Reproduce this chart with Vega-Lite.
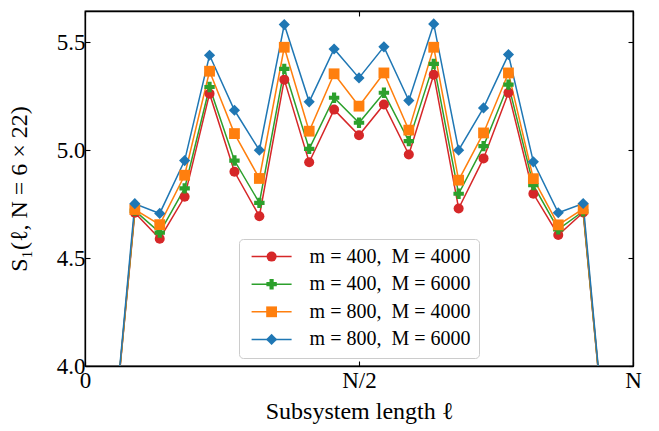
{
  "$schema": "https://vega.github.io/schema/vega-lite/v6.json",
  "width": 548,
  "height": 355,
  "autosize": "none",
  "padding": {"left": 85, "top": 11, "right": 26, "bottom": 65},
  "background": "white",
  "config": {
    "font": "Liberation Serif",
    "view": {"stroke": "black", "strokeWidth": 1.3},
    "axis": {
      "grid": false,
      "labelFont": "Liberation Serif",
      "titleFont": "Liberation Serif",
      "labelFontSize": 23,
      "titleFontSize": 24,
      "titleFontWeight": "normal",
      "labelColor": "black",
      "titleColor": "black",
      "tickColor": "black",
      "domainColor": "black",
      "domainWidth": 1.3,
      "tickWidth": 1.1,
      "tickSize": -5,
      "labelOverlap": false
    },
    "legend": {"labelFont": "Liberation Serif", "labelFontSize": 20, "labelColor": "black", "labelLimit": 400}
  },
  "data": {
    "values": [
      {"l": 6, "S": 3.5, "series": "m = 400,\u2002M = 4000", "g": "a"},
      {"l": 12, "S": 4.71, "series": "m = 400,\u2002M = 4000", "g": "a"},
      {"l": 18, "S": 4.59, "series": "m = 400,\u2002M = 4000", "g": "a"},
      {"l": 24, "S": 4.784, "series": "m = 400,\u2002M = 4000", "g": "a"},
      {"l": 30, "S": 5.262, "series": "m = 400,\u2002M = 4000", "g": "a"},
      {"l": 36, "S": 4.9, "series": "m = 400,\u2002M = 4000", "g": "a"},
      {"l": 42, "S": 4.694, "series": "m = 400,\u2002M = 4000", "g": "a"},
      {"l": 48, "S": 5.327, "series": "m = 400,\u2002M = 4000", "g": "a"},
      {"l": 54, "S": 4.944, "series": "m = 400,\u2002M = 4000", "g": "a"},
      {"l": 60, "S": 5.188, "series": "m = 400,\u2002M = 4000", "g": "a"},
      {"l": 66, "S": 5.069, "series": "m = 400,\u2002M = 4000", "g": "a"},
      {"l": 72, "S": 5.212, "series": "m = 400,\u2002M = 4000", "g": "a"},
      {"l": 78, "S": 4.98, "series": "m = 400,\u2002M = 4000", "g": "a"},
      {"l": 84, "S": 5.35, "series": "m = 400,\u2002M = 4000", "g": "a"},
      {"l": 90, "S": 4.73, "series": "m = 400,\u2002M = 4000", "g": "a"},
      {"l": 96, "S": 4.962, "series": "m = 400,\u2002M = 4000", "g": "a"},
      {"l": 102, "S": 5.266, "series": "m = 400,\u2002M = 4000", "g": "a"},
      {"l": 108, "S": 4.798, "series": "m = 400,\u2002M = 4000", "g": "a"},
      {"l": 114, "S": 4.607, "series": "m = 400,\u2002M = 4000", "g": "a"},
      {"l": 120, "S": 4.711, "series": "m = 400,\u2002M = 4000", "g": "a"},
      {"l": 126, "S": 3.5, "series": "m = 400,\u2002M = 4000", "g": "a"},

      {"l": 6, "S": 3.5, "series": "m = 400,\u2002M = 6000", "g": "b"},
      {"l": 12, "S": 4.72, "series": "m = 400,\u2002M = 6000", "g": "b"},
      {"l": 18, "S": 4.618, "series": "m = 400,\u2002M = 6000", "g": "b"},
      {"l": 24, "S": 4.823, "series": "m = 400,\u2002M = 6000", "g": "b"},
      {"l": 30, "S": 5.293, "series": "m = 400,\u2002M = 6000", "g": "b"},
      {"l": 36, "S": 4.952, "series": "m = 400,\u2002M = 6000", "g": "b"},
      {"l": 42, "S": 4.756, "series": "m = 400,\u2002M = 6000", "g": "b"},
      {"l": 48, "S": 5.377, "series": "m = 400,\u2002M = 6000", "g": "b"},
      {"l": 54, "S": 5.006, "series": "m = 400,\u2002M = 6000", "g": "b"},
      {"l": 60, "S": 5.243, "series": "m = 400,\u2002M = 6000", "g": "b"},
      {"l": 66, "S": 5.127, "series": "m = 400,\u2002M = 6000", "g": "b"},
      {"l": 72, "S": 5.266, "series": "m = 400,\u2002M = 6000", "g": "b"},
      {"l": 78, "S": 5.042, "series": "m = 400,\u2002M = 6000", "g": "b"},
      {"l": 84, "S": 5.4, "series": "m = 400,\u2002M = 6000", "g": "b"},
      {"l": 90, "S": 4.798, "series": "m = 400,\u2002M = 6000", "g": "b"},
      {"l": 96, "S": 5.019, "series": "m = 400,\u2002M = 6000", "g": "b"},
      {"l": 102, "S": 5.304, "series": "m = 400,\u2002M = 6000", "g": "b"},
      {"l": 108, "S": 4.838, "series": "m = 400,\u2002M = 6000", "g": "b"},
      {"l": 114, "S": 4.633, "series": "m = 400,\u2002M = 6000", "g": "b"},
      {"l": 120, "S": 4.717, "series": "m = 400,\u2002M = 6000", "g": "b"},
      {"l": 126, "S": 3.5, "series": "m = 400,\u2002M = 6000", "g": "b"},

      {"l": 6, "S": 3.5, "series": "m = 800,\u2002M = 4000", "g": "c"},
      {"l": 12, "S": 4.725, "series": "m = 800,\u2002M = 4000", "g": "c"},
      {"l": 18, "S": 4.655, "series": "m = 800,\u2002M = 4000", "g": "c"},
      {"l": 24, "S": 4.884, "series": "m = 800,\u2002M = 4000", "g": "c"},
      {"l": 30, "S": 5.366, "series": "m = 800,\u2002M = 4000", "g": "c"},
      {"l": 36, "S": 5.077, "series": "m = 800,\u2002M = 4000", "g": "c"},
      {"l": 42, "S": 4.869, "series": "m = 800,\u2002M = 4000", "g": "c"},
      {"l": 48, "S": 5.477, "series": "m = 800,\u2002M = 4000", "g": "c"},
      {"l": 54, "S": 5.088, "series": "m = 800,\u2002M = 4000", "g": "c"},
      {"l": 60, "S": 5.354, "series": "m = 800,\u2002M = 4000", "g": "c"},
      {"l": 66, "S": 5.204, "series": "m = 800,\u2002M = 4000", "g": "c"},
      {"l": 72, "S": 5.358, "series": "m = 800,\u2002M = 4000", "g": "c"},
      {"l": 78, "S": 5.093, "series": "m = 800,\u2002M = 4000", "g": "c"},
      {"l": 84, "S": 5.477, "series": "m = 800,\u2002M = 4000", "g": "c"},
      {"l": 90, "S": 4.861, "series": "m = 800,\u2002M = 4000", "g": "c"},
      {"l": 96, "S": 5.08, "series": "m = 800,\u2002M = 4000", "g": "c"},
      {"l": 102, "S": 5.358, "series": "m = 800,\u2002M = 4000", "g": "c"},
      {"l": 108, "S": 4.868, "series": "m = 800,\u2002M = 4000", "g": "c"},
      {"l": 114, "S": 4.654, "series": "m = 800,\u2002M = 4000", "g": "c"},
      {"l": 120, "S": 4.728, "series": "m = 800,\u2002M = 4000", "g": "c"},
      {"l": 126, "S": 3.5, "series": "m = 800,\u2002M = 4000", "g": "c"},

      {"l": 6, "S": 3.5, "series": "m = 800,\u2002M = 6000", "g": "d"},
      {"l": 12, "S": 4.752, "series": "m = 800,\u2002M = 6000", "g": "d"},
      {"l": 18, "S": 4.707, "series": "m = 800,\u2002M = 6000", "g": "d"},
      {"l": 24, "S": 4.952, "series": "m = 800,\u2002M = 6000", "g": "d"},
      {"l": 30, "S": 5.44, "series": "m = 800,\u2002M = 6000", "g": "d"},
      {"l": 36, "S": 5.185, "series": "m = 800,\u2002M = 6000", "g": "d"},
      {"l": 42, "S": 5.0, "series": "m = 800,\u2002M = 6000", "g": "d"},
      {"l": 48, "S": 5.582, "series": "m = 800,\u2002M = 6000", "g": "d"},
      {"l": 54, "S": 5.224, "series": "m = 800,\u2002M = 6000", "g": "d"},
      {"l": 60, "S": 5.469, "series": "m = 800,\u2002M = 6000", "g": "d"},
      {"l": 66, "S": 5.335, "series": "m = 800,\u2002M = 6000", "g": "d"},
      {"l": 72, "S": 5.479, "series": "m = 800,\u2002M = 6000", "g": "d"},
      {"l": 78, "S": 5.23, "series": "m = 800,\u2002M = 6000", "g": "d"},
      {"l": 84, "S": 5.585, "series": "m = 800,\u2002M = 6000", "g": "d"},
      {"l": 90, "S": 5.0, "series": "m = 800,\u2002M = 6000", "g": "d"},
      {"l": 96, "S": 5.196, "series": "m = 800,\u2002M = 6000", "g": "d"},
      {"l": 102, "S": 5.443, "series": "m = 800,\u2002M = 6000", "g": "d"},
      {"l": 108, "S": 4.946, "series": "m = 800,\u2002M = 6000", "g": "d"},
      {"l": 114, "S": 4.71, "series": "m = 800,\u2002M = 6000", "g": "d"},
      {"l": 120, "S": 4.753, "series": "m = 800,\u2002M = 6000", "g": "d"},
      {"l": 126, "S": 3.5, "series": "m = 800,\u2002M = 6000", "g": "d"}
    ]
  },
  "layer": [
    {
      "mark": {"type": "line", "strokeWidth": 1.5, "clip": true},
      "encoding": {
        "x": {
          "field": "l", "type": "quantitative",
          "scale": {"domain": [0, 132], "nice": false, "zero": false},
          "axis": {
            "orient": "bottom", "values": [0, 66, 132],
            "labelExpr": "datum.value == 0 ? '0' : (datum.value == 66 ? 'N/2' : 'N')",
            "labelFlush": false, "labelPadding": 8,
            "title": "Subsystem length ℓ", "titlePadding": 7
          }
        },
        "y": {
          "field": "S", "type": "quantitative",
          "scale": {"domain": [4.0, 5.645], "nice": false, "zero": false},
          "axis": {
            "orient": "left", "values": [4.0, 4.5, 5.0, 5.5], "format": ".1f",
            "labelPadding": 5, "title": "S₁(ℓ, N = 6 × 22)", "titlePadding": 25
          }
        },
        "stroke": {
          "field": "series", "type": "nominal",
          "scale": {
            "domain": ["m = 400,\u2002M = 4000", "m = 400,\u2002M = 6000", "m = 800,\u2002M = 4000", "m = 800,\u2002M = 6000"],
            "range": ["#d62728", "#2ca02c", "#ff7f0e", "#1f77b4"]
          },
          "legend": {
            "orient": "none", "legendX": 154, "legendY": 228, "title": null,
            "symbolType": "M-1,0H7", "symbolSize": 100, "symbolStrokeWidth": 1.5,
            "labelOffset": 43, "padding": 7.6, "rowPadding": 7.6,
            "fillColor": "white", "strokeColor": "#cccccc", "cornerRadius": 4
          }
        }
      }
    },
    {
      "mark": {"type": "point", "filled": true, "opacity": 1, "clip": true},
      "encoding": {
        "x": {
          "field": "l", "type": "quantitative",
          "axis": {"orient": "top", "values": [0, 66, 132], "labels": false, "title": null}
        },
        "y": {
          "field": "S", "type": "quantitative",
          "axis": {"orient": "right", "values": [4.0, 4.5, 5.0, 5.5], "labels": false, "title": null}
        },
        "color": {
          "field": "g", "type": "nominal",
          "scale": {"domain": ["a", "b", "c", "d"], "range": ["#d62728", "#2ca02c", "#ff7f0e", "#1f77b4"]},
          "legend": {
            "orient": "none", "legendX": 169, "legendY": 228, "title": null,
            "symbolSize": 120, "labelOpacity": 0, "padding": 7.6, "rowPadding": 7.6,
            "symbolOpacity": 1
          }
        },
        "shape": {
          "field": "g", "type": "nominal",
          "scale": {"domain": ["a", "b", "c", "d"], "range": ["circle", "cross", "square", "diamond"]},
          "legend": {
            "orient": "none", "legendX": 169, "legendY": 228, "title": null,
            "symbolSize": 120, "labelOpacity": 0, "padding": 7.6, "rowPadding": 7.6
          }
        },
        "size": {
          "field": "g", "type": "nominal",
          "scale": {"domain": ["a", "b", "c", "d"], "range": [100, 125, 100, 200]},
          "legend": null
        }
      }
    }
  ],
  "resolve": {"axis": {"x": "independent", "y": "independent"}}
}
